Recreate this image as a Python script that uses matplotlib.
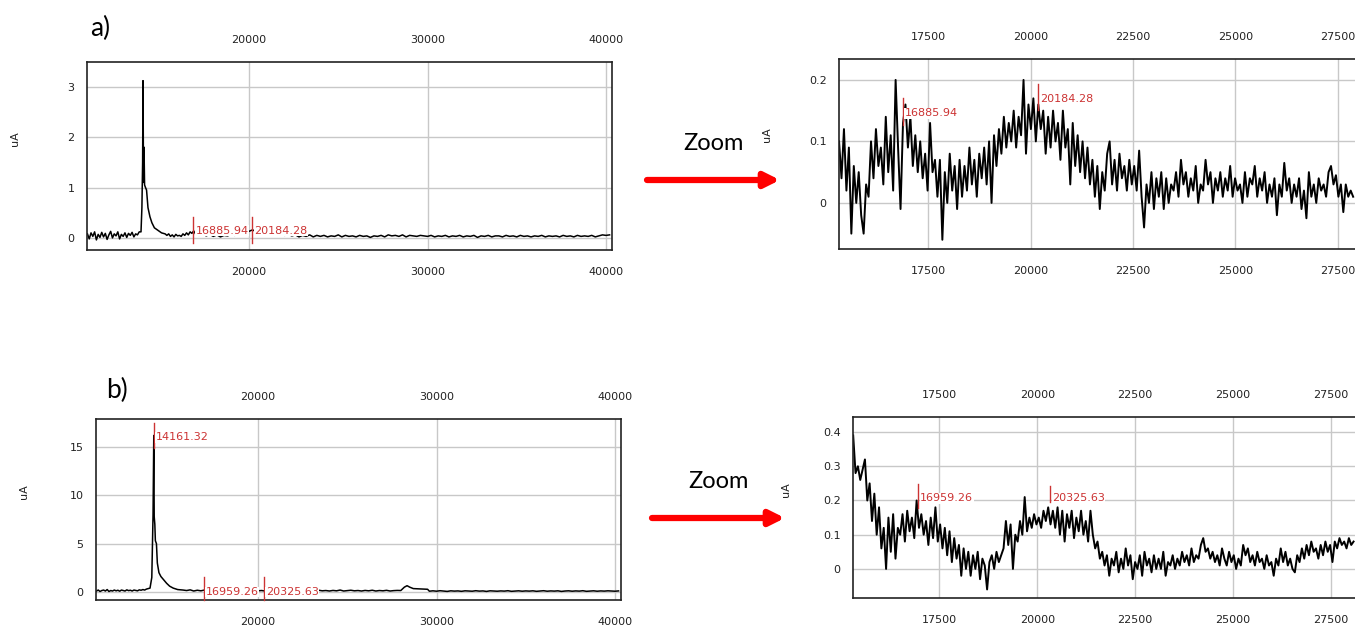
import numpy as np
import matplotlib
matplotlib.use('Agg')
import matplotlib.pyplot as plt

# ---------------- datos ----------------
# a) espectro completo
a_base1 = [0.08, -0.02, 0.10, 0.03, 0.12, -0.04, 0.07, 0.01, 0.11, 0.02,
           0.09, -0.03, 0.06, 0.13, 0.00, 0.08, 0.04, 0.12, -0.02, 0.07,
           0.03, 0.10, 0.01, 0.09, 0.05, 0.11, 0.02, 0.08, 0.06, 0.12]      # 10950..13850 / 100
a_pico_mz = [13950, 14000, 14040, 14062, 14090, 14118, 14150, 14200, 14260, 14340,
             14450, 14560, 14700, 14900, 15100, 15300]
a_pico_ua = [0.12, 0.6, 1.5, 3.12, 1.1, 1.8, 1.05, 1.0, 0.95, 0.6,
             0.42, 0.3, 0.2, 0.15, 0.1, 0.08]
a_cola = [0.05, 0.08, 0.03, 0.06, 0.02, 0.07, 0.04, 0.05, 0.03, 0.08,
          0.05, 0.10, 0.06, 0.12, 0.09, 0.14]                               # 15400..16900 / 100
a_base2 = [0.08, 0.05, 0.09, 0.04, 0.07,
           0.03, 0.06, 0.02, 0.05, 0.04, 0.07, 0.05, 0.09, 0.08, 0.11,
           0.13, 0.16, 0.12, 0.14, 0.11, 0.13, 0.08, 0.10, 0.06, 0.08,
           0.05, 0.07, 0.04, 0.06, 0.02, 0.05, 0.03, 0.06, 0.02, 0.05,
           0.03, 0.05, 0.02, 0.04, 0.03, 0.06, 0.02, 0.05, 0.03, 0.04,
           0.02, 0.05, 0.03, 0.04, 0.01, 0.04, 0.03, 0.05, 0.02, 0.06,
           0.04, 0.05, 0.03, 0.06, 0.02, 0.05, 0.04, 0.03, 0.05, 0.04,
           0.03, 0.05, 0.02, 0.04, 0.03, 0.05, 0.02, 0.04, 0.03, 0.05,
           0.02, 0.04, 0.03, 0.05, 0.01, 0.04, 0.03, 0.05, 0.02, 0.04,
           0.04, 0.02, 0.05, 0.03, 0.04, 0.02, 0.05, 0.03, 0.04, 0.02,
           0.04, 0.03, 0.05, 0.02, 0.04, 0.03, 0.04, 0.02, 0.05, 0.03,
           0.04, 0.02, 0.05, 0.03, 0.04, 0.03, 0.05, 0.02, 0.04, 0.06,
           0.05, 0.06]                                                      # 17000..40200 / 200

# a) zoom 15330..27870 / 60
a_zoom = [0.10, 0.04, 0.12, 0.02, 0.09, -0.05, 0.06, 0.00, 0.05, -0.02,
          -0.05, 0.03, 0.01, 0.10, 0.04, 0.12, 0.06, 0.09, 0.03, 0.14,
          0.05, 0.11, 0.02, 0.20, 0.09, -0.01, 0.13, 0.16, 0.09, 0.14,
          0.06, 0.11, 0.05, 0.10, 0.04, 0.08, 0.02, 0.13, 0.05, 0.07,
          0.01, 0.07, -0.06, 0.05, 0.00, 0.08, 0.02, 0.06, -0.01, 0.07,
          0.01, 0.06, 0.02, 0.09, 0.03, 0.07, 0.01, 0.08, 0.04, 0.09,
          0.03, 0.10, 0.00, 0.11, 0.06, 0.12, 0.08, 0.14, 0.09, 0.13,
          0.10, 0.15, 0.09, 0.14, 0.11, 0.20, 0.08, 0.16, 0.12, 0.17,
          0.10, 0.16, 0.12, 0.15, 0.08, 0.14, 0.09, 0.15, 0.10, 0.13,
          0.07, 0.15, 0.09, 0.12, 0.03, 0.13, 0.06, 0.11, 0.05, 0.10,
          0.04, 0.09, 0.03, 0.07, 0.01, 0.06, -0.01, 0.05, 0.02, 0.08,
          0.10, 0.03, 0.07, 0.02, 0.08, 0.04, 0.06, 0.02, 0.07, 0.03,
          0.06, 0.02, 0.085, 0.01, -0.04, 0.03, 0.00, 0.05, -0.01, 0.04,
          0.01, 0.05, -0.01, 0.04, 0.00, 0.03, 0.02, 0.05, 0.01, 0.07,
          0.03, 0.05, 0.01, 0.04, 0.02, 0.06, 0.00, 0.03, 0.02, 0.07,
          0.03, 0.05, 0.00, 0.04, 0.02, 0.05, 0.01, 0.04, 0.02, 0.06,
          0.01, 0.04, 0.02, 0.03, 0.00, 0.05, 0.01, 0.04, 0.03, 0.06,
          0.01, 0.04, 0.02, 0.05, 0.00, 0.03, 0.01, 0.04, -0.02, 0.03,
          0.01, 0.065, 0.02, 0.04, 0.00, 0.03, 0.01, 0.04, -0.01, 0.02,
          -0.025, 0.05, 0.01, 0.03, 0.00, 0.04, 0.02, 0.03, 0.01, 0.05,
          0.06, 0.03, 0.045, 0.01, 0.03, -0.015, 0.03, 0.01, 0.02, 0.01]

# b) espectro completo
b_base1 = [0.10, 0.20, 0.05, 0.15, 0.20, 0.10, 0.25, 0.05, 0.15, 0.10,
           0.20, 0.12, 0.18, 0.08, 0.20, 0.15, 0.10, 0.22, 0.14, 0.18,
           0.10, 0.20, 0.16, 0.12, 0.22, 0.18, 0.25, 0.20, 0.30, 0.35]      # 10950..13850 / 100
b_pico_mz = [13950, 14050, 14120, 14161, 14185, 14220, 14250, 14310, 14360, 14450,
             14560, 14700, 14880, 15050, 15250, 15500, 15800]
b_pico_ua = [0.4, 1.5, 8.0, 16.2, 7.8, 7.0, 5.3, 5.0, 3.0, 2.0,
             1.6, 1.3, 0.9, 0.6, 0.4, 0.25, 0.2]
b_cola = [0.15, 0.22, 0.10, 0.18, 0.12, 0.20, 0.08, 0.16, 0.14, 0.22,
          0.12, 0.18, 0.10, 0.20, 0.15, 0.12, 0.18, 0.10, 0.16, 0.20,
          0.12, 0.15, 0.10, 0.18, 0.14, 0.10, 0.16, 0.12, 0.20, 0.10,
          0.15, 0.12, 0.18, 0.10, 0.14, 0.16, 0.10, 0.18, 0.12, 0.15,
          0.10, 0.16, 0.12, 0.20, 0.10, 0.14, 0.18, 0.12, 0.15, 0.10,
          0.16, 0.12, 0.18, 0.10, 0.15, 0.12, 0.17, 0.10, 0.14, 0.16]       # 16000..27800 / 200
b_bulto_mz = [28000, 28200, 28350, 28500, 28700, 29000, 29300, 29500, 29600]
b_bulto_ua = [0.15, 0.5, 0.65, 0.5, 0.35, 0.32, 0.30, 0.28, 0.08]
b_base3 = [0.12, 0.08, 0.13, 0.10, 0.06, 0.12, 0.09, 0.11, 0.07, 0.12,
           0.10, 0.08, 0.13, 0.09, 0.11, 0.06, 0.12, 0.10, 0.08, 0.11,
           0.09, 0.13, 0.07, 0.10, 0.12, 0.08, 0.11, 0.09, 0.12, 0.07,
           0.10, 0.13, 0.08, 0.11, 0.09, 0.12, 0.06, 0.10, 0.12, 0.08,
           0.11, 0.09, 0.13, 0.07, 0.10, 0.12, 0.08, 0.11, 0.09, 0.12,
           0.10, 0.08, 0.11]                                                # 29800..40200 / 200

# b) zoom 15300..28080 / 60
b_zoom = [0.39, 0.28, 0.30, 0.26, 0.29, 0.32, 0.20, 0.25, 0.14, 0.22,
          0.10, 0.18, 0.06, 0.12, 0.00, 0.15, 0.05, 0.16, 0.03, 0.12,
          0.10, 0.16, 0.08, 0.17, 0.11, 0.15, 0.09, 0.20, 0.12, 0.16,
          0.10, 0.14, 0.07, 0.15, 0.09, 0.18, 0.08, 0.13, 0.06, 0.12,
          0.04, 0.11, 0.02, 0.09, 0.03, 0.07, -0.02, 0.06, 0.00, 0.05,
          -0.02, 0.04, 0.00, 0.05, -0.03, 0.03, 0.01, -0.06, 0.02, 0.04,
          0.00, 0.05, 0.02, 0.04, 0.06, 0.14, 0.07, 0.13, 0.00, 0.10,
          0.08, 0.14, 0.10, 0.21, 0.11, 0.15, 0.12, 0.16, 0.13, 0.15,
          0.12, 0.17, 0.14, 0.18, 0.13, 0.17, 0.12, 0.18, 0.10, 0.17,
          0.08, 0.16, 0.12, 0.17, 0.09, 0.15, 0.11, 0.17, 0.10, 0.14,
          0.08, 0.17, 0.10, 0.06, 0.08, 0.03, 0.05, 0.01, 0.04, -0.02,
          0.03, 0.01, 0.05, -0.01, 0.03, 0.00, 0.06, 0.01, 0.04, -0.03,
          0.02, 0.00, 0.04, -0.02, 0.05, 0.01, 0.03, -0.01, 0.04, 0.00,
          0.03, 0.00, 0.05, -0.02, 0.02, 0.01, 0.04, 0.00, 0.03, 0.01,
          0.05, 0.02, 0.04, 0.01, 0.06, 0.02, 0.04, 0.03, 0.07, 0.09,
          0.05, 0.06, 0.03, 0.05, 0.02, 0.04, 0.01, 0.06, 0.03, 0.01,
          0.05, 0.02, 0.04, 0.00, 0.03, 0.01, 0.07, 0.04, 0.06, 0.02,
          0.04, 0.01, 0.05, 0.02, 0.03, 0.00, 0.04, 0.01, 0.02, -0.02,
          0.03, 0.01, 0.06, 0.02, 0.05, 0.01, 0.03, 0.00, -0.01, 0.04,
          0.02, 0.06, 0.03, 0.07, 0.04, 0.08, 0.05, 0.06, 0.03, 0.07,
          0.04, 0.08, 0.05, 0.07, 0.02, 0.08, 0.06, 0.09, 0.07, 0.08,
          0.06, 0.09, 0.07, 0.08]

# marcas (m/z, etiqueta)
marcas_a = [16885.94, 20184.28]
marcas_b = [14161.32, 16959.26, 20325.63]

# ---------------- construccion de las series ----------------
a_mz = np.concatenate([np.arange(10950, 13851, 100), a_pico_mz,
                       np.arange(15400, 16901, 100), np.arange(17000, 40201, 200)])
a_ua = np.concatenate([a_base1, a_pico_ua, a_cola, a_base2])
b_mz = np.concatenate([np.arange(10950, 13851, 100), b_pico_mz,
                       np.arange(16000, 27801, 200), b_bulto_mz, np.arange(29800, 40201, 200)])
b_ua = np.concatenate([b_base1, b_pico_ua, b_cola, b_bulto_ua, b_base3])
az_mz = 15330 + 60 * np.arange(len(a_zoom))
bz_mz = 15300 + 60 * np.arange(len(b_zoom))

W, H = 1355, 628
fig = plt.figure(figsize=(W / 100, H / 100), dpi=100)
ROJO = '#cc3333'


def panel(px0, py0, px1, py1, xlim, ylim, xt, yt, mz, ua, lw=1.1):
    ax = fig.add_axes([px0 / W, 1 - py1 / H, (px1 - px0) / W, (py1 - py0) / H])
    ax.plot(mz, ua, color='black', lw=lw, zorder=2)
    ax.set_xlim(*xlim)
    ax.set_ylim(*ylim)
    ax.set_xticks(xt)
    ax.set_yticks(yt)
    ax.set_yticklabels(['%g' % v for v in yt])
    ax.grid(True, color='#c8c8c8', lw=1.0)
    ax.set_axisbelow(True)
    ax.tick_params(axis='x', top=True, labeltop=True, bottom=True, labelbottom=True,
                   length=0, pad=12, labelsize=8, labelcolor='#222222')
    ax.tick_params(axis='y', length=0, pad=9, labelsize=8, labelcolor='#222222')
    for s in ax.spines.values():
        s.set_color('#222222')
        s.set_linewidth(1.2)
    ax.set_ylabel('uA', fontsize=8, color='#222222')
    ax.yaxis.set_label_coords(-0.128, 0.59)
    return ax


def marca(ax, x, y0, y1, yt):
    ax.plot([x, x], [y0, y1], color=ROJO, lw=1.0, zorder=3, clip_on=False)
    ax.annotate('%.2f' % x, xy=(x, yt), xytext=(1.5, 0), textcoords='offset points',
                ha='left', va='center', fontsize=8, color=ROJO, zorder=4,
                bbox=dict(facecolor='white', edgecolor='none', pad=0.3))


# a) completo
ax1 = panel(87, 62, 612, 250, (10924, 40336), (-0.24, 3.49),
            [20000, 30000, 40000], [0, 1, 2, 3], a_mz, a_ua)
for x in marcas_a:
    marca(ax1, x, -0.1, 0.42, 0.14)

# a) zoom
ax2 = panel(839, 59, 1360, 249, (15329, 28037), (-0.075, 0.234),
            [17500, 20000, 22500, 25000, 27500], [0, 0.1, 0.2], az_mz, a_zoom, lw=1.4)
ax2.yaxis.set_label_coords(-0.128, 0.6)
marca(ax2, marcas_a[0], 0.127, 0.171, 0.146)
marca(ax2, marcas_a[1], 0.151, 0.193, 0.169)

# b) completo
ax3 = panel(96, 419, 621, 600, (10924, 40336), (-0.83, 17.9),
            [20000, 30000, 40000], [0, 5, 10, 15], b_mz, b_ua)
ax3.yaxis.set_label_coords(-0.128, 0.597)
marca(ax3, marcas_b[0], 14.9, 17.5, 16.0)
marca(ax3, marcas_b[1], -0.83, 1.55, 0.0)
marca(ax3, marcas_b[2], -0.83, 1.55, 0.0)

# b) zoom
ax4 = panel(853, 417, 1360, 598, (15295, 28244), (-0.085, 0.444),
            [17500, 20000, 22500, 25000, 27500], [0, 0.1, 0.2, 0.3, 0.4], bz_mz, b_zoom, lw=1.4)
ax4.yaxis.set_label_coords(-0.122, 0.597)
marca(ax4, marcas_b[1], 0.178, 0.248, 0.207)
marca(ax4, marcas_b[2], 0.195, 0.242, 0.207)

# letras y flechas
fig.text(90 / W, 1 - 28 / H, 'a)', fontsize=19, family='Lato', va='center', ha='left')
fig.text(106 / W, 1 - 390 / H, 'b)', fontsize=19, family='Lato', va='center', ha='left')
for xa, xb, ya, yz in [(647, 780, 180, 143), (652, 785, 518, 482)]:
    plt.annotate('', xy=(xb / W, 1 - ya / H), xytext=(xa / W, 1 - ya / H),
                 xycoords='figure fraction', textcoords='figure fraction',
                 arrowprops=dict(arrowstyle='-|>', color='red', lw=4.5,
                                 mutation_scale=22, shrinkA=0, shrinkB=0))
    fig.text((xa + xb) / 2 / W, 1 - yz / H, 'Zoom', fontsize=17, family='Lato',
             ha='center', va='center')

fig.savefig('out.png', dpi=100)
